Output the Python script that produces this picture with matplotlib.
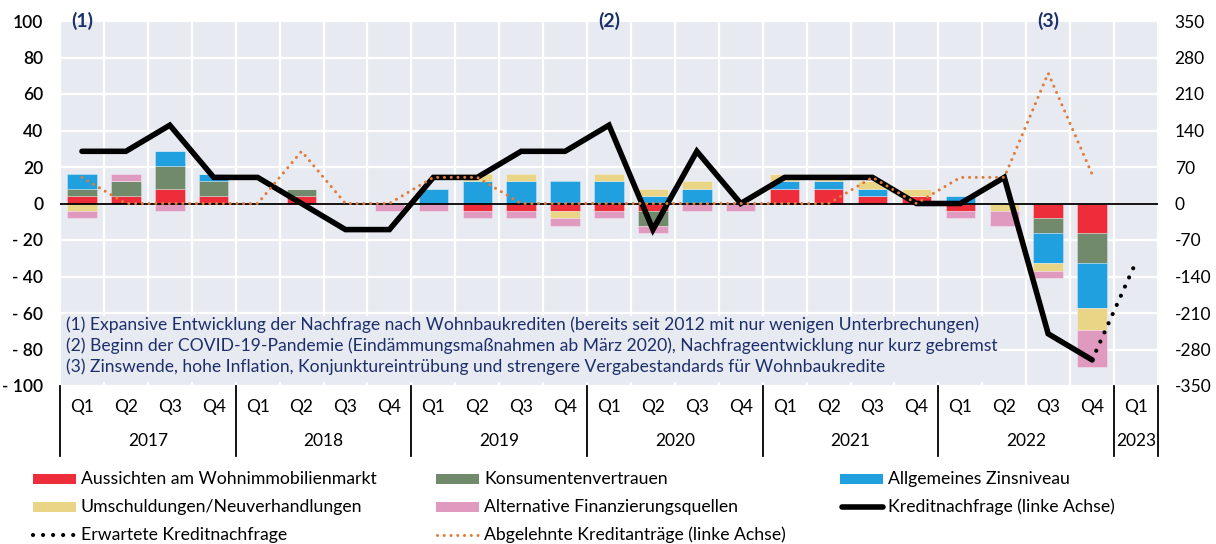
import matplotlib
matplotlib.use('Agg')
import matplotlib.pyplot as plt
import numpy as np
from matplotlib.lines import Line2D
from matplotlib.patches import Rectangle
from matplotlib.transforms import blended_transform_factory

# ---------------- data ----------------
quarters = ['Q1', 'Q2', 'Q3', 'Q4'] * 6 + ['Q1']
years = ['2017', '2018', '2019', '2020', '2021', '2022', '2023']

# bar components (right axis)
aussichten = [14.3, 14.3, 28.6, 14.3, 0, 14.3, 0, 0, 0, -14.3, -14.3, -14.3,
              -14.3, -14.3, 0, 0, 28.6, 28.6, 14.3, 14.3, -14.3, 0, -28.6, -57.1, np.nan]
konsumenten = [14.3, 28.6, 42.9, 28.6, 0, 14.3, 0, 0, 0, 0, 0, 0,
               0, -28.6, 0, 0, 0, 0, 0, 0, 0, 0, -28.6, -57.1, np.nan]
zinsniveau = [28.6, 0, 28.6, 14.3, 0, 0, 0, 0, 28.6, 42.9, 42.9, 42.9,
              42.9, 14.3, 28.6, 0, 14.3, 14.3, 14.3, 0, 14.3, 0, -57.1, -85.7, np.nan]
umschuldung = [-14.3, 0, 0, 0, 0, 0, 0, 0, 0, 14.3, 14.3, -14.3,
               14.3, 14.3, 14.3, 0, 14.3, 14.3, 14.3, 14.3, 0, -14.3, -14.3, -42.9, np.nan]
alternative = [-14.3, 14.3, -14.3, 0, 0, 0, 0, -14.3, -14.3, -14.3, -14.3, -14.3,
               -14.3, -14.3, -14.3, -14.3, 0, 0, 0, 0, -14.3, -28.6, -14.3, -71.4, np.nan]

# lines (left axis)
kreditnachfrage = [28.6, 28.6, 42.9, 14.3, 14.3, 0, -14.3, -14.3, 14.3, 14.3, 28.6, 28.6,
                   42.9, -14.3, 28.6, 0, 14.3, 14.3, 14.3, 0, 0, 14.3, -71.4, -85.7, np.nan]
erwartet = [np.nan] * 23 + [-85.7, -32.0]
abgelehnt = [14.3, 0, 0, 0, 0, 28.6, 0, 0, 14.3, 14.3, 0, 0,
             0, 0, 0, 0, 0, 0, 14.3, 0, 14.3, 14.3, 71.4, 16.0, np.nan]

bar_series = [
    ('Aussichten am Wohnimmobilienmarkt', aussichten, '#EE2D3A'),
    ('Konsumentenvertrauen', konsumenten, '#728A6C'),
    ('Allgemeines Zinsniveau', zinsniveau, '#21A0E0'),
    ('Umschuldungen/Neuverhandlungen', umschuldung, '#EAD586'),
    ('Alternative Finanzierungsquellen', alternative, '#E09AC0'),
]

left_ticks = [100, 80, 60, 40, 20, 0, -20, -40, -60, -80, -100]
right_ticks = [350, 280, 210, 140, 70, 0, -70, -140, -210, -280, -350]

notes = [
    '(1) Expansive Entwicklung der Nachfrage nach Wohnbaukrediten (bereits seit 2012 mit nur wenigen Unterbrechungen)',
    '(2) Beginn der COVID-19-Pandemie (Eindämmungsmaßnahmen ab März 2020), Nachfrageentwicklung nur kurz gebremst',
    '(3) Zinswende, hohe Inflation, Konjunktureintrübung und strengere Vergabestandards für Wohnbaukredite',
]
markers = [(0, '(1)'), (12, '(2)'), (22, '(3)')]

# ---------------- style ----------------
plt.rcParams['font.family'] = ['Lato', 'DejaVu Sans']
navy = '#1C2F6B'
bg = '#E8EAF1'
orange = '#E07B39'
W, H = 1216, 544

fig = plt.figure(figsize=(W / 100, H / 100), dpi=100)
x0, x1, ytop, ybot = 60, 1158, 21, 386
ax = fig.add_axes([x0 / W, 1 - ybot / H, (x1 - x0) / W, (ybot - ytop) / H])
ax.set_facecolor(bg)
ax2 = ax.twinx()

x = np.arange(len(quarters))

# stacked bars on ax (right scale)
pos_bottom = np.zeros(len(x))
neg_bottom = np.zeros(len(x))
for name, vals, col in bar_series:
    v = np.nan_to_num(np.array(vals, dtype=float))
    b = np.where(v >= 0, pos_bottom, neg_bottom)
    ax.bar(x, v, width=0.67, bottom=b, color=col, edgecolor=(1, 1, 1, 0.35),
           linewidth=0.6, zorder=3)
    pos_bottom += np.where(v > 0, v, 0)
    neg_bottom += np.where(v < 0, v, 0)

ax.set_ylim(-350, 350)
ax.set_xlim(-0.5, len(x) - 0.5)
ax.yaxis.tick_right()
ax.set_yticks(right_ticks)
ax.set_yticklabels([str(t) for t in right_ticks])
ax.tick_params(axis='y', length=0, pad=12, labelsize=12.5)
ax.set_xticks(np.arange(-0.5, len(x), 1.0))
ax.set_xticklabels([])
ax.tick_params(axis='x', length=0)
ax.grid(True, color='white', linewidth=1.6, zorder=0)
ax.set_axisbelow(True)
for s in ax.spines.values():
    s.set_visible(False)
ax.axhline(0, color='black', linewidth=1.3, zorder=4)

# background box for the notes (hides grid lines behind the text)
ax.add_patch(Rectangle((61 / W, 1 - 382 / H), (990 - 61) / W, (382 - 316) / H,
                       transform=fig.transFigure, facecolor=bg, edgecolor='none',
                       zorder=1))

# lines on ax2 (left scale)
ax2.set_ylim(-100, 100)
ax2.yaxis.tick_left()
ax2.set_yticks(left_ticks)
ax2.set_yticklabels([('- ' + str(-t)) if t < 0 else str(t) for t in left_ticks],
                    fontweight='semibold')
ax2.tick_params(axis='y', length=0, pad=12, labelsize=12.5)
for s in ax2.spines.values():
    s.set_visible(False)
ax2.plot(x, kreditnachfrage, color='black', linewidth=4, solid_capstyle='round',
         solid_joinstyle='miter', zorder=5)
ax2.plot(x, erwartet, color='black', linewidth=3.0, linestyle=(0, (0.01, 2.4)),
         dash_capstyle='round', zorder=6)
ax2.plot(x, abgelehnt, color=orange, linewidth=2.2, linestyle=(0, (0.01, 2.2)),
         dash_capstyle='round', zorder=6)

# markers (1),(2),(3)
for qi, lab in markers:
    ax2.text(qi, 1.0, lab, transform=blended_transform_factory(ax2.transData, ax2.transAxes),
             ha='center', va='center', color=navy, fontsize=14, fontweight='bold',
             zorder=7)

# notes
for i, t in enumerate(notes):
    ax2.text(66 / W, 1 - (325 + 21 * i) / H, t, transform=fig.transFigure, ha='left',
             va='center', color=navy, fontsize=12.6, zorder=8)

# category labels below
tr = blended_transform_factory(ax.transData, ax.transAxes)
yq = -(407 - ybot) / (ybot - ytop)
yy = -(441 - ybot) / (ybot - ytop)
ysep = -(456 - ybot) / (ybot - ytop)
for i, q in enumerate(quarters):
    ax.text(i, yq, q, transform=tr, ha='center', va='center', fontsize=12.5)
starts = list(range(0, 24, 4)) + [24]
ends = [s + 4 for s in starts[:-1]] + [25]
for yr, s, e in zip(years, starts, ends):
    ax.text((s + e - 1) / 2, yy, yr, transform=tr, ha='center', va='center', fontsize=12.5)
for b in [-0.5] + [e - 0.5 for e in ends]:
    ax.add_line(Line2D([b, b], [0, ysep], transform=tr, color='black', linewidth=1.3,
                       clip_on=False))

# legend (manual, three columns)
leg_fs = 12.7
cols = [33, 436, 840]
rows = [479, 507, 535]
entries = [
    (0, 0, 'patch', '#EE2D3A', 'Aussichten am Wohnimmobilienmarkt'),
    (1, 0, 'patch', '#728A6C', 'Konsumentenvertrauen'),
    (2, 0, 'patch', '#21A0E0', 'Allgemeines Zinsniveau'),
    (0, 1, 'patch', '#EAD586', 'Umschuldungen/Neuverhandlungen'),
    (1, 1, 'patch', '#E09AC0', 'Alternative Finanzierungsquellen'),
    (2, 1, 'solid', 'black', 'Kreditnachfrage (linke Achse)'),
    (0, 2, 'bdot', 'black', 'Erwartete Kreditnachfrage'),
    (1, 2, 'odot', orange, 'Abgelehnte Kreditanträge (linke Achse)'),
]
for c, r, kind, col, lab in entries:
    xl = cols[c]
    yc = rows[r]
    if kind == 'patch':
        fig.patches.append(Rectangle((xl / W, 1 - (yc + 5) / H), 43 / W, 10 / H,
                                     transform=fig.transFigure, facecolor=col,
                                     edgecolor='none'))
    elif kind == 'solid':
        fig.lines.append(Line2D([(xl + 2) / W, (xl + 43) / W], [1 - yc / H] * 2,
                                transform=fig.transFigure, color=col, linewidth=4,
                                solid_capstyle='round'))
    elif kind == 'bdot':
        fig.lines.append(Line2D([(xl) / W, (xl + 44) / W], [1 - yc / H] * 2,
                                transform=fig.transFigure, color=col, linewidth=3.0,
                                linestyle=(0, (0.01, 2.4)), dash_capstyle='round'))
    else:
        fig.lines.append(Line2D([(xl + 1) / W, (xl + 43) / W], [1 - yc / H] * 2,
                                transform=fig.transFigure, color=col, linewidth=2.2,
                                linestyle=(0, (0.01, 2.2)), dash_capstyle='round'))
    fig.text((xl + 48) / W, 1 - yc / H, lab, ha='left', va='center', fontsize=leg_fs)

fig.savefig('out.png', dpi=100, facecolor='white')
